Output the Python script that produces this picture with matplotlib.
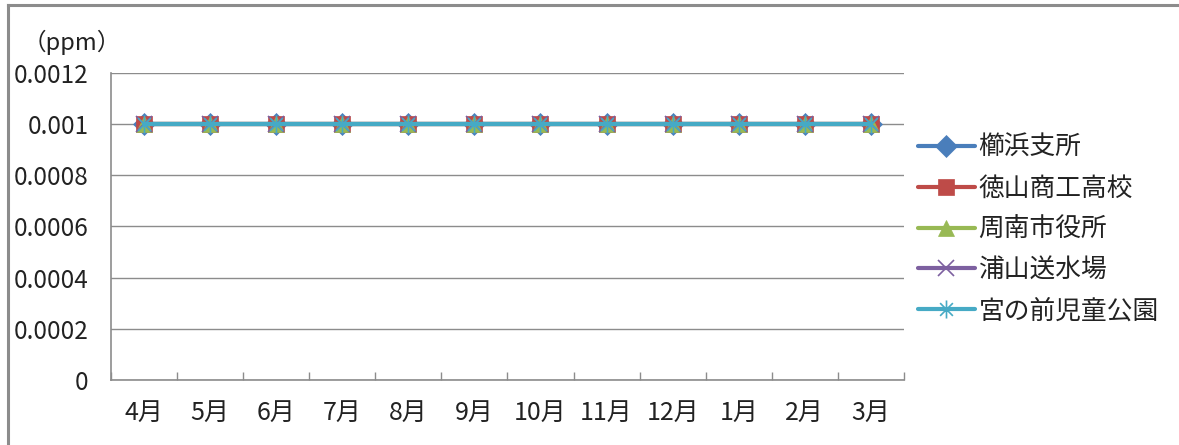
import matplotlib
matplotlib.use("Agg")
import matplotlib.pyplot as plt
from matplotlib.path import Path
from matplotlib.lines import Line2D
import numpy as np

plt.rcParams['font.family'] = ['Noto Sans CJK JP', 'DejaVu Sans']

months = ["4月", "5月", "6月", "7月", "8月", "9月", "10月", "11月", "12月", "1月", "2月", "3月"]
stations = ["櫛浜支所", "徳山商工高校", "周南市役所", "浦山送水場", "宮の前児童公園"]
kushihama = [0.001] * 12
tokuyama_shoko = [0.001] * 12
shunan_shiyakusho = [0.001] * 12
urayama = [0.001] * 12
miyanomae = [0.001] * 12
series = [kushihama, tokuyama_shoko, shunan_shiyakusho, urayama, miyanomae]
y_ticks = [0, 0.0002, 0.0004, 0.0006, 0.0008, 0.001, 0.0012]
y_tick_labels = ["0", "0.0002", "0.0004", "0.0006", "0.0008", "0.001", "0.0012"]

colors = ["#4A7EBB", "#BE4B48", "#98B954", "#7D60A0", "#46AAC5"]

# asterisk marker: an "x" crossed by a vertical stroke
d = 0.7071
star_path = Path(
    [(-d, -d), (d, d), (-d, d), (d, -d), (0, -1), (0, 1)],
    [Path.MOVETO, Path.LINETO, Path.MOVETO, Path.LINETO, Path.MOVETO, Path.LINETO],
)
markers = ["D", "s", "^", "x", star_path]
msizes = [11, 11.5, 12, 12, 13]

fig = plt.figure(figsize=(11.79, 4.45), dpi=100)
ax = fig.add_axes([0.0941, 0.1461, 0.6726, 0.6899])

x = np.arange(len(months))
for vals, name, c, m, ms in zip(series, stations, colors, markers, msizes):
    filled = m in ("D", "s", "^")
    ax.plot(x, vals, color=c, lw=3.0, marker=m, markersize=ms,
            markerfacecolor=c if filled else "none",
            markeredgecolor=c, markeredgewidth=1.2 if not filled else 0.5,
            label=name, solid_capstyle="round")

ax.set_xlim(-0.5, len(months) - 0.5)
ax.set_ylim(0, 0.0012)
ax.set_yticks(y_ticks)
ax.set_yticklabels(y_tick_labels)
ax.set_xticks(x)
ax.set_xticklabels(months)
ax.set_xticks(np.arange(len(months) + 1) - 0.5, minor=True)

ax.grid(axis="y", color="#8C8C8C", lw=1.0)
ax.set_axisbelow(True)
for s in ["top", "right"]:
    ax.spines[s].set_visible(False)
for s in ["left", "bottom"]:
    ax.spines[s].set_color("#8C8C8C")
    ax.spines[s].set_linewidth(1.2)

ax.tick_params(axis="x", which="major", length=0, pad=14, labelsize=18, colors="#222222")
ax.tick_params(axis="x", which="minor", direction="in", length=6, width=1.0, color="#8C8C8C")
ax.tick_params(axis="y", length=0, pad=16, labelsize=17.5, colors="#222222")

fig.text(0.019, 0.905, "（ppm）", fontsize=17, color="#222222", ha="left", va="center")

leg = ax.legend(loc="center left", bbox_to_anchor=(1.005, 0.49), frameon=False,
                fontsize=18.5, handlelength=2.2, handletextpad=0.15,
                labelspacing=0.58, borderaxespad=0)
for t in leg.get_texts():
    t.set_color("#222222")

# outer chart frame (top and left edges)
fig.add_artist(Line2D([0.0068, 1.0], [0.9888, 0.9888], transform=fig.transFigure,
                      color="#8C8C8C", lw=2.2))
fig.add_artist(Line2D([0.0068, 0.0068], [0.0, 0.9888], transform=fig.transFigure,
                      color="#8C8C8C", lw=2.2))

fig.savefig("out.png", dpi=100)
